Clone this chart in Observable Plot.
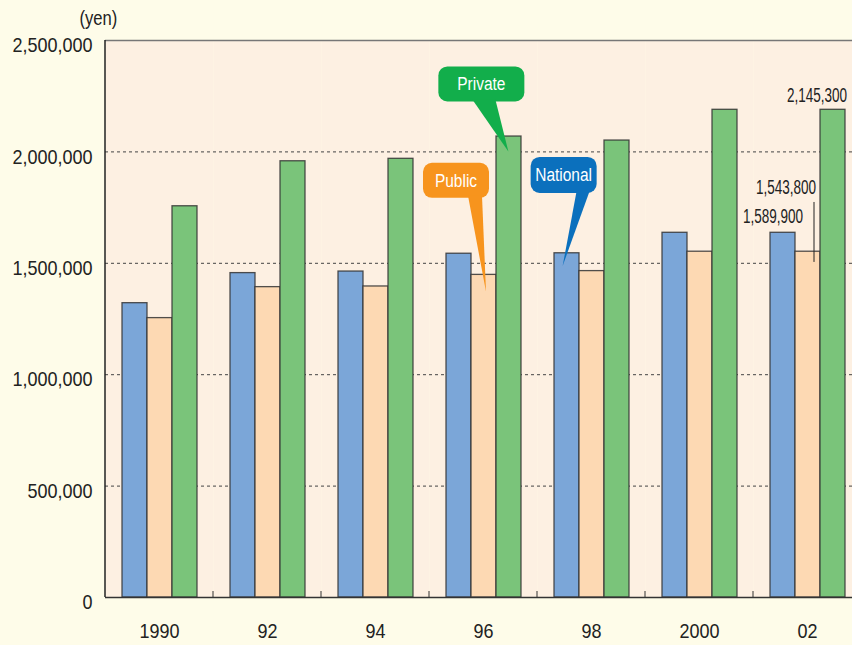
<!DOCTYPE html>
<html><head><meta charset="utf-8">
<script src="https://cdn.jsdelivr.net/npm/d3@7"></script>
<script src="https://cdn.jsdelivr.net/npm/@observablehq/plot@0.6"></script>
<style>
html,body{margin:0;padding:0;background:#fefce9;overflow:hidden;}
#chart svg{display:block;max-width:none !important;}
</style></head><body><div id="chart"></div>
<script>
// ---- data ----
const years = ["1990","92","94","96","98","2000","02"];
const types = ["National","Public","Private"];
const nationalValues = [1321000,1456000,1463000,1543000,1545000,1637000,1637000];
const publicValues   = [1254000,1393000,1396000,1448000,1465000,1552000,1552000];
const privateValues  = [1756000,1958000,1969000,2069000,2051000,2189000,2189000];
const yTicks = [0,500000,1000000,1500000,2000000,2500000];
const gridTicks = [500000,1000000,1500000,2000000];
const barColors = ["#7ba6d8","#fdd9b3","#7ac47a"];

// value annotations (2002)
const noteYears = ["02","02","02"];
const noteTypes = ["Private","National","Public"];
const noteValues = [2189000,1637000,1552000];
const noteTexts = ["2,145,300","1,589,900","1,543,800"];
// leader line for the public value
const leaderYear = "02", leaderType = "Public", leaderFrom = 1504000, leaderTo = 1773000;

// callouts
const calloutLabels = ["Private","Public","National"];
const calloutYears = ["96","96","98"];
const calloutTypes = ["Private","Public","National"];
const calloutValues = [2000000,1370000,1486000];
const calloutColors = ["#12ae4b","#f7941d","#0b70bd"];

const FONT = "'Liberation Sans',Arial,sans-serif";

const data = [];
years.forEach((yr,i)=>{
  data.push({year:yr,type:"National",value:nationalValues[i]});
  data.push({year:yr,type:"Public",value:publicValues[i]});
  data.push({year:yr,type:"Private",value:privateValues[i]});
});
const notes = noteTexts.map((t,i)=>({year:noteYears[i],type:noteTypes[i],value:noteValues[i],text:t}));
const noteDx = [14,20,8], noteDy = [-14,-16,-64];

const X_PAD_OUTER = 0.63;

const chart = Plot.plot({
  width: 861, height: 645,
  marginTop: 40, marginBottom: 48, marginLeft: 105, marginRight: 0,
  style: {background: "transparent", fontFamily: FONT, fontSize: "21px", color: "#222"},
  fx: {domain: years, padding: 0, label: null, tickSize: 0, tickPadding: 26, axis: "bottom"},
  x: {domain: types, paddingInner: 0, paddingOuter: X_PAD_OUTER, axis: null},
  y: {domain: [0, 2500000], axis: null},
  color: {domain: types, range: barColors},
  marks: [
    Plot.frame({fill: "#fdf0e2"}),
    Plot.ruleY(gridTicks, {stroke: "#444", strokeDasharray: "3,3", strokeWidth: 1}),
    Plot.barY(data, {fx: "year", x: "type", y: "value", fill: "type", stroke: "#333", strokeWidth: 1.3, strokeOpacity: 0.85}),
    Plot.ruleY([2500000], {stroke: "#777", strokeWidth: 1.5}),
    Plot.ruleY([0], {stroke: "#333", strokeWidth: 1.5}),
    Plot.axisY(yTicks, {tickSize: 0, tickPadding: 13, tickFormat: d3.format(","), dy: 5, fontSize: 21, label: null}),
    Plot.text([notes[0]], {fx: "year", x: "type", y: "value", text: "text", textAnchor: "end", dx: noteDx[0], dy: noteDy[0], fontSize: 20, fill: "#222"}),
    Plot.text([notes[1]], {fx: "year", x: "type", y: "value", text: "text", textAnchor: "end", dx: noteDx[1], dy: noteDy[1], fontSize: 20, fill: "#222"}),
    Plot.text([notes[2]], {fx: "year", x: "type", y: "value", text: "text", textAnchor: "end", dx: noteDx[2], dy: noteDy[2], fontSize: 20, fill: "#222"}),
    Plot.ruleX([{year: leaderYear, type: leaderType}], {fx: "year", x: "type", y1: () => leaderFrom, y2: () => leaderTo, dx: 6, stroke: "#222", strokeWidth: 1}),
    Plot.text([{year: "1990", t: "(yen)"}], {fx: "year", frameAnchor: "top-left", text: "t", dx: -26, dy: -30, fontSize: 20, fill: "#222"})
  ]
});
document.getElementById("chart").append(chart);

// ---- overlay: left axis line, boundary ticks, callouts (positions from Plot's scales) ----
const svg = d3.select(chart);
const ys = chart.scale("y");
const y = d3.scaleLinear(ys.domain, ys.range);
const fxs = chart.scale("fx");
const fx = d3.scaleBand(fxs.domain, fxs.range)
  .paddingInner(fxs.paddingInner || 0).paddingOuter(fxs.paddingOuter || 0)
  .align(fxs.align ?? 0.5);
const xb = d3.scaleBand(types, [0, fx.bandwidth()]).paddingInner(0).paddingOuter(X_PAD_OUTER);
const g = svg.append("g");
const x0 = fx.range()[0];
g.append("line").attr("x1", x0).attr("x2", x0).attr("y1", y(0)).attr("y2", y(2500000))
  .attr("stroke", "#222").attr("stroke-width", 1.5);
years.slice(1).forEach(yr => {
  const xx = fx(yr);
  g.append("line").attr("x1", xx).attr("x2", xx).attr("y1", y(0)).attr("y2", y(0) - 6)
    .attr("stroke", "#333").attr("stroke-width", 1);
});
// box geometry relative to tip: [tipDx, left, right, top, bottom, tailL, tailR]
const boxGeom = [[0,-70,16,-85,-50,-36,-13],[3,-63,3,-129,-94,-18,-4],[-3,-32,34,-109,-73,14,27]];
calloutLabels.forEach((lab,i) => {
  const [tdx,l,r,t,b,tl,tr] = boxGeom[i];
  const tx = fx(calloutYears[i]) + xb(calloutTypes[i]) + xb.bandwidth()/2 + tdx;
  const ty = y(calloutValues[i]);
  const cg = g.append("g");
  cg.append("rect").attr("x", tx + l).attr("y", ty + t).attr("width", r - l).attr("height", b - t)
    .attr("rx", 9).attr("fill", calloutColors[i]);
  cg.append("path").attr("d", `M${tx+tl},${ty+b-2}L${tx+tr},${ty+b-2}L${tx},${ty}Z`).attr("fill", calloutColors[i]);
  cg.append("text").attr("x", tx + (l + r)/2).attr("y", ty + (t + b)/2).attr("dy", "0.35em")
    .attr("text-anchor", "middle").attr("fill", "white").attr("font-size", 18)
    .attr("font-family", FONT).text(lab);
});

// condensed lettering like the original (horizontal squeeze of the real text)
svg.selectAll("text").each(function() {
  const s = this.textContent;
  let f = 0.857;
  if (noteTexts.includes(s)) f = 0.675;
  else if (s === "(yen)") f = 0.83;
  else if (calloutLabels.includes(s)) f = 0.86;
  const len = this.getComputedTextLength();
  if (len > 0) {
    this.setAttribute("textLength", (len * f).toFixed(1));
    this.setAttribute("lengthAdjust", "spacingAndGlyphs");
  }
});
</script></body></html>
